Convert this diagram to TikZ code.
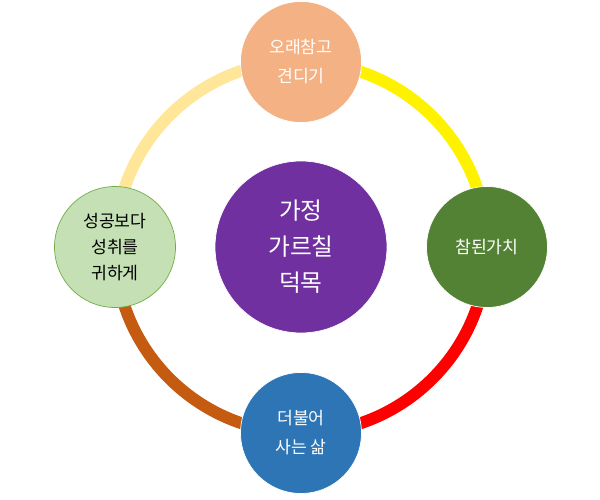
\documentclass[tikz,border=0pt]{standalone}
\usepackage{fontspec}
\setmainfont{Noto Sans CJK KR}
\usepackage{xcolor}
\usetikzlibrary{backgrounds}
\definecolor{peach}{HTML}{F4B183}
\definecolor{leafgreen}{HTML}{548235}
\definecolor{seablue}{HTML}{2E75B6}
\definecolor{palegreen}{HTML}{C5E0B4}
\definecolor{midgreen}{HTML}{70AD47}
\definecolor{grape}{HTML}{7030A0}
\definecolor{cream}{HTML}{FFE699}
\definecolor{rust}{HTML}{C55A11}
\tikzset{
  gv hub/.style={
    circle,
    minimum size=3.44cm,
    inner sep=0pt,
    fill=grape,
    draw=white,
    thin,
    text=white,
    align=center,
    font=\fontsize{13.5}{20.5}\selectfont,
  },
  gv value/.style={
    circle,
    minimum size=2.42cm,
    inner sep=0pt,
    draw=white,
    thin,
    text=white,
    align=center,
    font=\fontsize{9.8}{16.5}\selectfont,
  },
  gv ring/.style={line width=6.8pt},
}

\begin{document}
\begin{tikzpicture}[x=0.02cm,y=0.02cm]
  \useasboundingbox (0,0) rectangle (600,500);

  \node[gv hub] (hub) at (301,253) {가정\\가르칠\\덕목};

  \node[gv value,fill=peach] (endure) at (301,438) {오래참고\\견디기};
  \node[gv value,fill=leafgreen] (worth) at (487,253) {참된가치};
  \node[gv value,fill=seablue] (together) at (301,67) {더불어\\사는 삶};
  \node[gv value,fill=palegreen,draw=midgreen,text=black,font=\fontsize{9.8}{15}\selectfont] (achieve) at (115,253) {성공보다\\성취를\\귀하게};

  \begin{scope}[on background layer]
    \draw[gv ring,cream] (achieve.center) arc[start angle=180,end angle=90,radius=186];
    \draw[gv ring,yellow] (endure.center) arc[start angle=90,end angle=0,radius=186];
    \draw[gv ring,red] (worth.center) arc[start angle=0,end angle=-90,radius=186];
    \draw[gv ring,rust] (together.center) arc[start angle=270,end angle=180,radius=186];
  \end{scope}
\end{tikzpicture}
\end{document}
